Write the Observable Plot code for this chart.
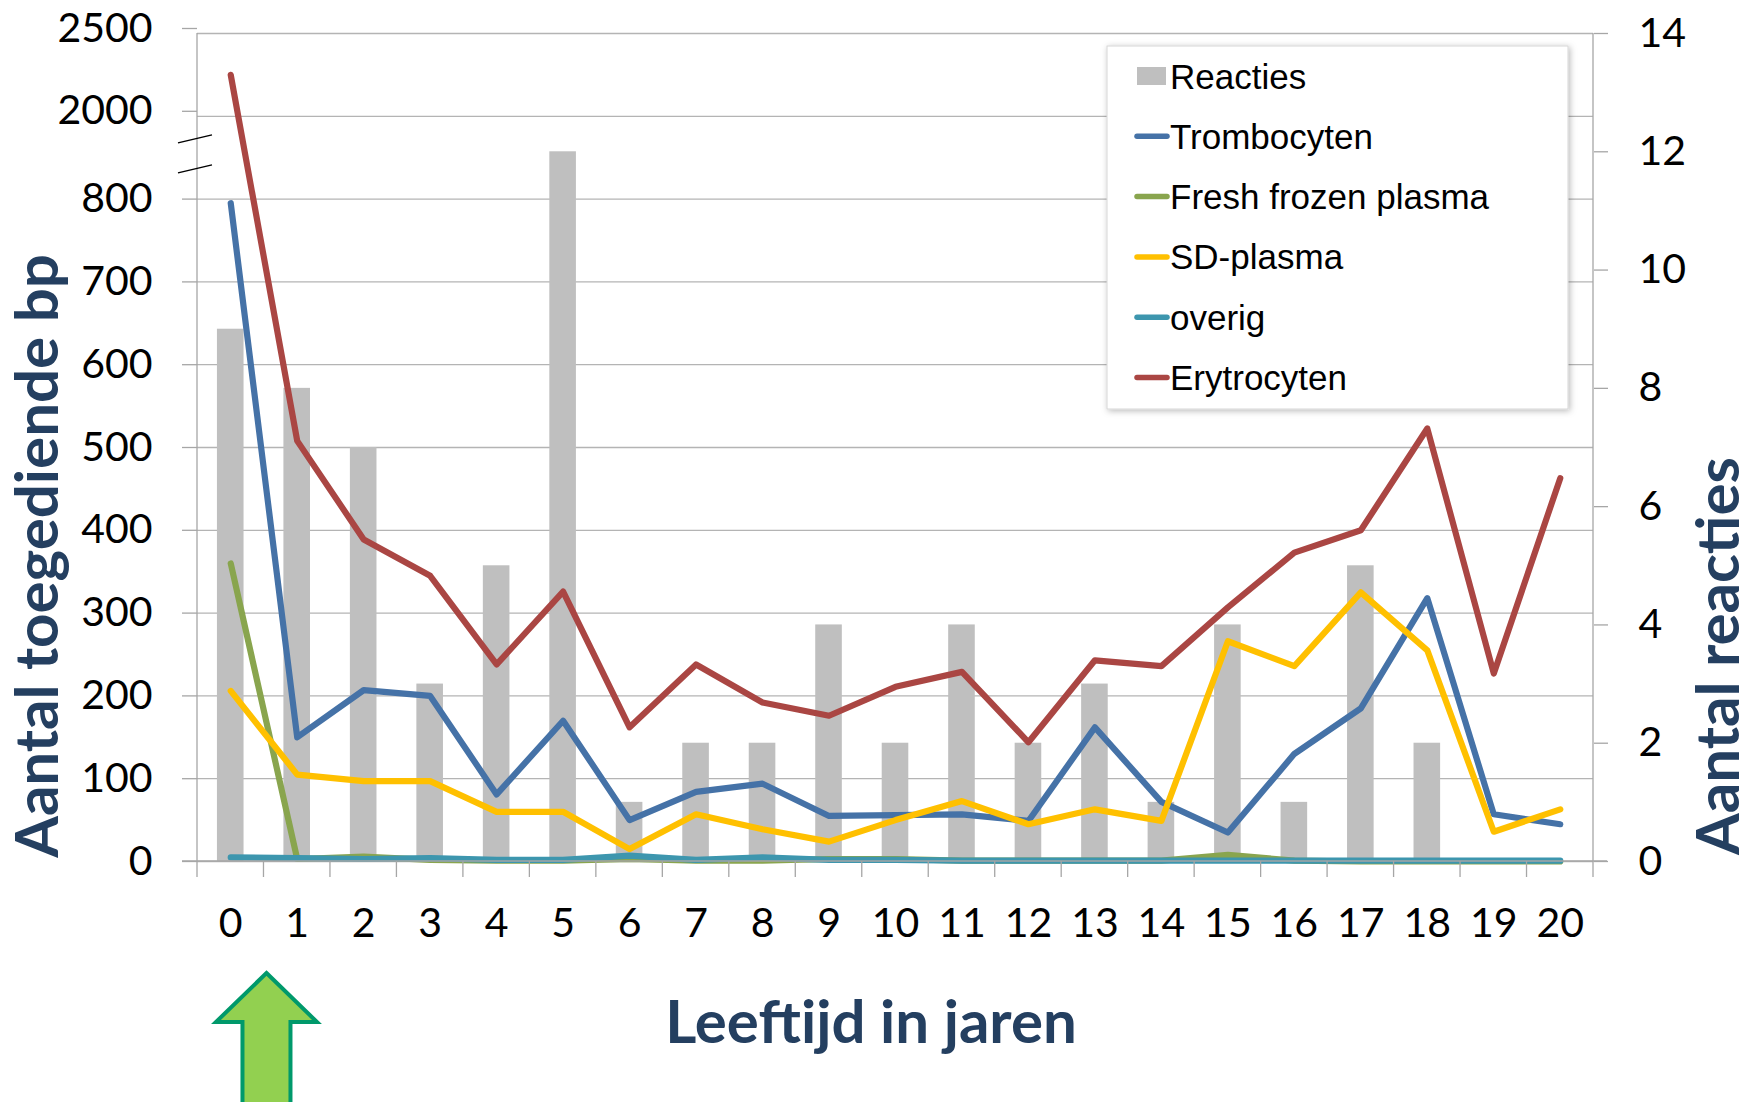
<!DOCTYPE html>
<html><head><meta charset="utf-8">
<script src="https://cdn.jsdelivr.net/npm/d3@7"></script>
<script src="https://cdn.jsdelivr.net/npm/@observablehq/plot@0.6"></script>
<style>
html,body{margin:0;padding:0;background:#fff;}
#chart svg{display:block;}
</style></head><body><div id="chart"></div>
<script>
// ---- data ----
const ages = ["0","1","2","3","4","5","6","7","8","9","10","11","12","13","14","15","16","17","18","19","20"];
const reacties    = [9, 8, 7, 3, 5, 12, 1, 2, 2, 4, 2, 4, 2, 3, 1, 4, 1, 5, 2, 0, 0];
const trombocyten = [795, 150, 207, 200, 81, 170, 50, 84, 94, 55, 56, 57, 49, 162, 72, 35, 130, 185, 318, 57, 45];
const ffp         = [360, 3, 6, 2, 1, 1, 3, 1, 1, 3, 3, 1, 1, 1, 1, 8, 1, 0, 0, 0, 0];
const sdPlasma    = [206, 105, 97, 97, 60, 60, 15, 57, 39, 24, 50, 73, 45, 63, 49, 266, 236, 325, 255, 36, 63];
const overig      = [5, 4, 3, 4, 2, 2, 7, 2, 5, 2, 2, 1, 1, 1, 1, 1, 1, 1, 1, 1, 1];
const erytrocyten = [2250, 508, 389, 345, 238, 326, 162, 238, 192, 176, 211, 229, 144, 243, 236, 307, 373, 400, 523, 227, 463];

const seriesNames  = ["Trombocyten", "Fresh frozen plasma", "SD-plasma", "overig", "Erytrocyten"];
const seriesValues = [trombocyten, ffp, sdPlasma, overig, erytrocyten];
const seriesColors = ["#4572a7", "#89a54e", "#ffc000", "#3d96ae", "#aa4643"];
const barName = "Reacties";
const barColor = "#bfbfbf";

const leftTicksLow  = [0, 100, 200, 300, 400, 500, 600, 700, 800];
const leftTicksHigh = [2000, 2500];               // above the axis break
const leftTicks  = leftTicksLow.concat(leftTicksHigh);
const rightTicks = [0, 2, 4, 6, 8, 10, 12, 14];
const breakVals  = [1230, 1665];

const leftTitle = "Aantal toegediende bp";
const rightTitle = "Aantal reacties";
const xTitle = "Leeftijd in jaren";

// ---- layout ----
const W = 1752, H = 1102;
const mL = 197, mR = 159, mT = 33, mB = 241;
const yBottom = H - mB, yTop = mT;
const yRange = leftTicks.map((_, i) => yBottom - i * (yBottom - yTop) / (leftTicks.length - 1));
const rightMax = rightTicks[rightTicks.length - 1];
// map reaction counts (right axis) into the left-axis value space
const toLeft = d3.scaleLinear()
  .domain(leftTicks.map((_, i) => i * rightMax / (leftTicks.length - 1)))
  .range(leftTicks);

const table = ages.map((a, i) => ({age: a, reacties: reacties[i]}));
const long = seriesNames.flatMap((s, k) => ages.map((a, i) => ({age: a, series: s, value: seriesValues[k][i]})));

const axisGray = "#a6a6a6";
const fs = 41;
const tickOpts = {anchor: "left", tickSize: 15, tickPadding: 30, stroke: axisGray, strokeWidth: 1.3, fill: "#000", fontSize: fs, label: null, tickFormat: d3.format("d")};
const plot = Plot.plot({
  width: W, height: H,
  marginLeft: mL, marginRight: mR, marginTop: mT, marginBottom: mB,
  style: {fontFamily: "Lato, sans-serif", fontSize: fs + "px", background: "#fff", color: "#000", overflow: "visible"},
  x: {type: "band", domain: ages, paddingInner: 0.6, paddingOuter: 0.3, round: false},
  y: {type: "linear", domain: leftTicks, range: yRange},
  color: {domain: seriesNames, range: seriesColors},
  marks: [
    Plot.gridY(leftTicks, {stroke: "#b4b4b4", strokeOpacity: 1, strokeWidth: 1.3}),
    Plot.barY(table, {x: "age", y: d => toLeft(d.reacties), fill: barColor}),
    Plot.line(long, {x: "age", y: "value", z: "series", stroke: "series", strokeWidth: 6.2, strokeLinejoin: "round", strokeLinecap: "round"}),
    Plot.axisY(leftTicksLow, tickOpts),
    Plot.axisY(leftTicksHigh, {...tickOpts, dy: -5}),
    Plot.axisY(rightTicks.map(toLeft), {anchor: "right", tickSize: 14, tickPadding: 31, stroke: axisGray, strokeWidth: 1.3, fill: "#000", fontSize: fs, label: null, tickFormat: v => String(Math.round(toLeft.invert(v)))}),
    Plot.axisX({anchor: "bottom", tickSize: 0, tickPadding: 46, fill: "#000", fontSize: fs, label: null})
  ]
});
document.getElementById("chart").appendChild(plot);

// ---- decorations drawn from the scales ----
const svg = d3.select(plot);
const xs = plot.scale("x"), ys = plot.scale("y");
const left = mL, right = W - mR;
const center = a => xs.apply(a) + xs.bandwidth / 2;
const deco = svg.append("g");

// axis lines
[left, right].forEach(x => deco.append("line")
  .attr("x1", x).attr("x2", x).attr("y1", yTop).attr("y2", yBottom + 16)
  .attr("stroke", axisGray).attr("stroke-width", 1.3));
deco.append("line").attr("x1", left - 15).attr("x2", right + 14)
  .attr("y1", ys.apply(0)).attr("y2", ys.apply(0)).attr("stroke", axisGray).attr("stroke-width", 1.3);
// category boundary ticks
ages.forEach((a, i) => {
  const b = center(a) + xs.step / 2;
  if (i < ages.length - 1)
    deco.append("line").attr("x1", b).attr("x2", b).attr("y1", yBottom).attr("y2", yBottom + 16)
      .attr("stroke", axisGray).attr("stroke-width", 1.3);
});
// axis break marks
breakVals.forEach(v => {
  const yy = ys.apply(v);
  deco.append("line").attr("x1", left - 19).attr("x2", left + 15)
    .attr("y1", yy + 4).attr("y2", yy - 4).attr("stroke", "#000").attr("stroke-width", 1.4);
});

// axis titles
const titleColor = "#243f60";
const titleFont = "Lato, sans-serif";
deco.append("text").text(leftTitle)
  .attr("transform", `translate(58,556) rotate(-90)`)
  .attr("text-anchor", "middle").attr("font-family", titleFont).attr("font-weight", 700)
  .attr("font-size", 60).attr("fill", titleColor);
deco.append("text").text(rightTitle)
  .attr("transform", `translate(1739,656) rotate(-90)`)
  .attr("text-anchor", "middle").attr("font-family", titleFont).attr("font-weight", 700)
  .attr("font-size", 60).attr("fill", titleColor);
deco.append("text").text(xTitle)
  .attr("x", 871).attr("y", 1043)
  .attr("text-anchor", "middle").attr("font-family", titleFont).attr("font-weight", 700)
  .attr("font-size", 60).attr("fill", titleColor);

// green arrow under the boundary between age 0 and 1
const cx = center(ages[0]) + xs.step / 2 + 3;
const arrowPts = [[0, 973], [50.5, 1022], [24, 1022], [24, 1112], [-24, 1112], [-24, 1022], [-50.5, 1022]];
deco.append("path")
  .attr("d", "M" + arrowPts.map(([dx, y]) => `${cx + dx},${y}`).join("L") + "Z")
  .attr("fill", "#92d050").attr("stroke", "#00996b").attr("stroke-width", 4).attr("stroke-linejoin", "miter");

// legend
const defs = svg.append("defs");
const f = defs.append("filter").attr("id", "lgshadow").attr("x", "-10%").attr("y", "-10%").attr("width", "120%").attr("height", "120%");
f.append("feDropShadow").attr("dx", 1.5).attr("dy", 1.5).attr("stdDeviation", 3).attr("flood-color", "#000").attr("flood-opacity", 0.28);
const lg = svg.append("g").attr("text-anchor", "start");
lg.append("rect").attr("x", 1107).attr("y", 46).attr("width", 461).attr("height", 363)
  .attr("fill", "#fff").attr("stroke", "#d6d6d6").attr("stroke-width", 1).attr("filter", "url(#lgshadow)");
const items = [{name: barName, color: barColor, bar: true}]
  .concat(seriesNames.map((n, k) => ({name: n, color: seriesColors[k], bar: false})));
items.forEach((it, k) => {
  const ry = 76 + k * 60.3;
  if (it.bar) {
    lg.append("rect").attr("x", 1137).attr("y", ry - 9).attr("width", 29).attr("height", 18).attr("fill", it.color);
  } else {
    lg.append("line").attr("x1", 1137).attr("x2", 1167).attr("y1", ry).attr("y2", ry)
      .attr("stroke", it.color).attr("stroke-width", 5.5).attr("stroke-linecap", "round");
  }
  lg.append("text").text(it.name).attr("x", 1170).attr("y", ry + 12.5).attr("text-anchor", "start")
    .attr("font-family", "'Liberation Sans', Arial, sans-serif").attr("font-size", 35).attr("fill", "#000");
});
</script>
</body></html>
